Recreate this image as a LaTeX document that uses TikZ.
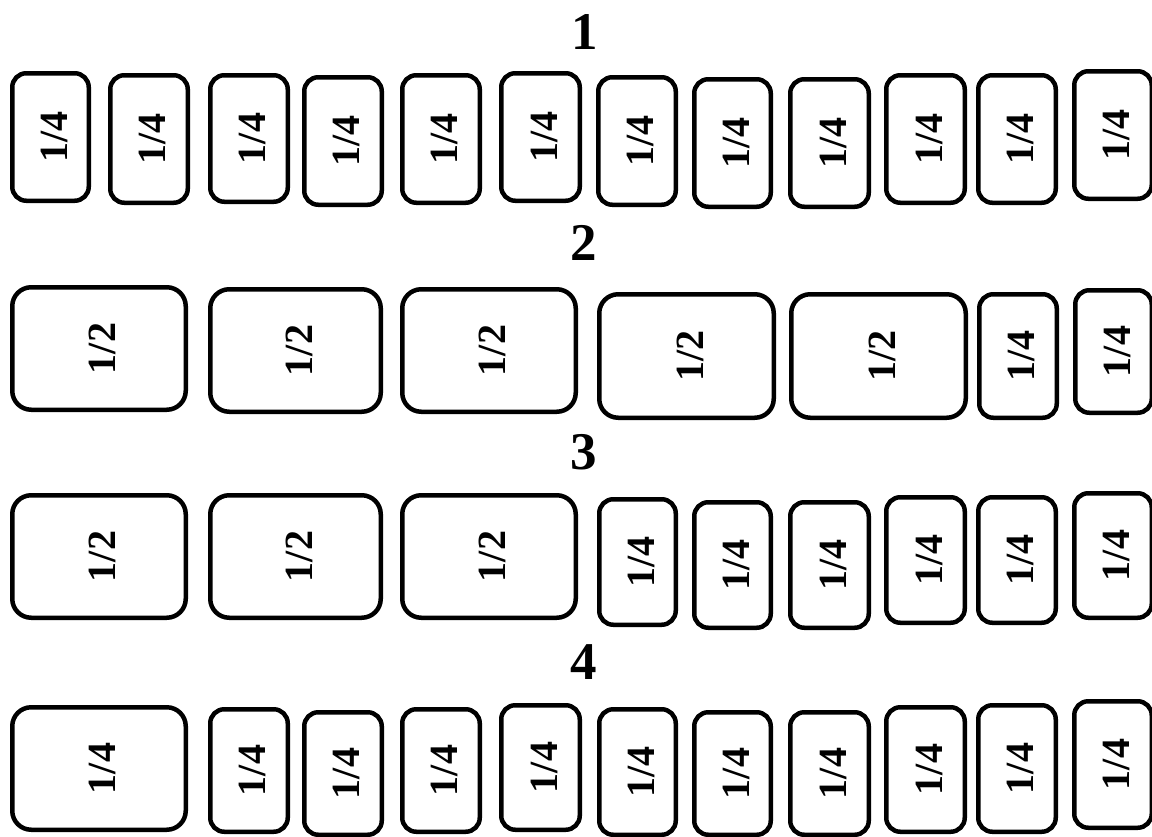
\documentclass[tikz,border=0pt]{standalone}
\usepackage{fontspec}
\setmainfont{Liberation Serif}
\begin{document}
\begin{tikzpicture}[x=1pt,y=-1pt,
  box/.style={draw=black, line width=4.5pt, rounded corners=14pt, inner sep=0pt, fill=white},
  wide/.style={rounded corners=19pt},
  ttl/.style={font=\fontsize{53}{53}\selectfont\bfseries, inner sep=0pt, anchor=base}]
\useasboundingbox (0,0) rectangle (1152,836);
\newcommand{\bx}[7][]{%
  \node[box, #1, minimum width={(#5-#3-4.5)*1pt}, minimum height={(#6-#4-4.5)*1pt}]
    (#2) at ({(#3+#5)/2},{(#4+#6)/2})
    {\rotatebox{90}{\fontsize{40}{40}\selectfont\bfseries\raisebox{-3.5pt}[\height][\depth]{#7}}};}
% titles
\node[ttl] (t1) at (585,49) {1};
\node[ttl] (t2) at (584,260) {2};
\node[ttl] (t3) at (584,469) {3};
\node[ttl] (t4) at (584,679) {4};
% row 1
\bx{a1}{10}{71}{91}{203}{1/4}
\bx{a2}{108}{73}{190}{205}{1/4}
\bx{a3}{208}{73}{290}{204}{1/4}
\bx{a4}{302}{75}{384}{207}{1/4}
\bx{a5}{400}{73}{482}{205}{1/4}
\bx{a6}{499}{71}{582}{203}{1/4}
\bx{a7}{596}{75}{678}{207}{1/4}
\bx{a8}{692}{77}{773}{209}{1/4}
\bx{a9}{788}{77}{871}{209}{1/4}
\bx{a10}{884}{73}{967}{205}{1/4}
\bx{a11}{976}{73}{1058}{205}{1/4}
\bx{a12}{1072}{69}{1154}{201}{1/4}
% row 2
\bx[wide]{b1}{10}{285}{188}{412}{1/2}
\bx[wide]{b2}{208}{287}{383}{414}{1/2}
\bx[wide]{b3}{400}{287}{578}{414}{1/2}
\bx[wide]{b4}{597}{292}{776}{420}{1/2}
\bx[wide]{b5}{789}{292}{968}{420}{1/2}
\bx{b6}{977}{292}{1059}{420}{1/4}
\bx{b7}{1073}{288}{1154}{415}{1/4}
% row 3
\bx[wide]{c1}{10}{493}{188}{620}{1/2}
\bx[wide]{c2}{208}{493}{383}{620}{1/2}
\bx[wide]{c3}{400}{493}{578}{620}{1/2}
\bx{c4}{597}{497}{678}{627}{1/4}
\bx{c5}{692}{500}{773}{630}{1/4}
\bx{c6}{788}{500}{871}{630}{1/4}
\bx{c7}{884}{495}{967}{625}{1/4}
\bx{c8}{976}{495}{1058}{625}{1/4}
\bx{c9}{1072}{491}{1154}{620}{1/4}
% row 4
\bx[wide]{d1}{10}{705}{188}{832}{1/4}
\bx{d2}{208}{707}{290}{834}{1/4}
\bx{d3}{302}{710}{384}{837}{1/4}
\bx{d4}{400}{707}{482}{834}{1/4}
\bx{d5}{499}{703}{582}{832}{1/4}
\bx{d6}{597}{707}{678}{837}{1/4}
\bx{d7}{692}{710}{773}{837}{1/4}
\bx{d8}{788}{710}{871}{837}{1/4}
\bx{d9}{884}{705}{967}{834}{1/4}
\bx{d10}{976}{703}{1058}{834}{1/4}
\bx{d11}{1072}{699}{1154}{830}{1/4}
\end{tikzpicture}
\end{document}
